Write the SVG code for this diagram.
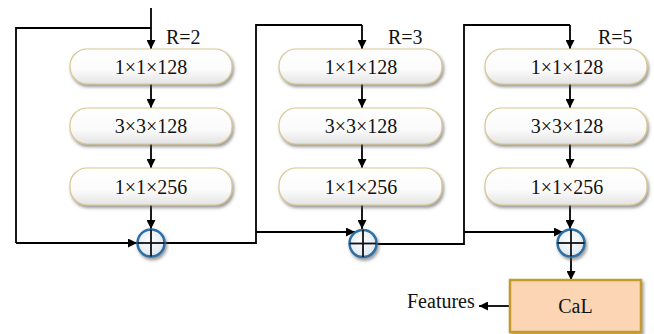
<svg xmlns="http://www.w3.org/2000/svg" width="654" height="334" viewBox="0 0 654 334">
<defs>
<linearGradient id="boxg" x1="0" y1="0" x2="0" y2="1">
<stop offset="0" stop-color="#ffffff"/>
<stop offset="0.6" stop-color="#fbfbfb"/>
<stop offset="1" stop-color="#e4e4e4"/>
</linearGradient>
<radialGradient id="circg" cx="0.45" cy="0.4" r="0.6">
<stop offset="0" stop-color="#ffffff"/>
<stop offset="1" stop-color="#dfe8f0"/>
</radialGradient>
<filter id="sh" x="-10%" y="-20%" width="125%" height="160%">
<feDropShadow dx="1.5" dy="2.5" stdDeviation="1.5" flood-color="#555" flood-opacity="0.6"/>
</filter>
<marker id="ah" viewBox="0 0 10 10" refX="10" refY="5" markerWidth="9" markerHeight="9" markerUnits="userSpaceOnUse" orient="auto">
<path d="M0,0 L10,5 L0,10 z" fill="#000"/>
</marker>
</defs>
<style>
.lbl{font-family:"Liberation Serif","Times New Roman",serif;font-size:20px;fill:#111;}
.box{fill:url(#boxg);stroke:#d8c690;stroke-width:1.2;filter:url(#sh);}
.ln{fill:none;stroke:#000;stroke-width:1.8;}
.arr{fill:none;stroke:#000;stroke-width:1.8;marker-end:url(#ah);}
.sum circle{fill:url(#circg);stroke:#2f6fa6;stroke-width:2.5;filter:url(#sh);}
.sum line{stroke:#111;stroke-width:1.8;}
</style>

<g id="connectors">
<path class="arr" d="M151,8 V49"/>
<path class="ln" d="M151,28 H16 V243"/>
<path class="arr" d="M16,243 H137"/>
<path class="arr" d="M151,84 V108"/>
<path class="arr" d="M151,144 V168"/>
<path class="arr" d="M151,205 V229"/>
<path class="ln" d="M165,243 H256 V25 H362"/>
<path class="arr" d="M362,25 V49"/>
<path class="arr" d="M256,232 H355"/>
<path class="arr" d="M362,84 V108"/>
<path class="arr" d="M362,144 V168"/>
<path class="arr" d="M362,205 V229"/>
<path class="ln" d="M377,244 H464 V25 H570"/>
<path class="arr" d="M570,25 V49"/>
<path class="arr" d="M464,232 H563"/>
<path class="arr" d="M570,84 V108"/>
<path class="arr" d="M570,144 V168"/>
<path class="arr" d="M570,205 V229"/>
<path class="arr" d="M571,257 V280"/>
<path class="arr" d="M510,306 H479"/>
</g>

<g id="b1">
<g id="b1c1"><rect class="box" x="70" y="49" width="162" height="35" rx="17"/><text class="lbl" x="151" y="73.5" text-anchor="middle">1×1×128</text></g>
<g id="b1c2"><rect class="box" x="70" y="108" width="162" height="36" rx="17"/><text class="lbl" x="151" y="133" text-anchor="middle">3×3×128</text></g>
<g id="b1c3"><rect class="box" x="70" y="168" width="162" height="37" rx="17"/><text class="lbl" x="151" y="193.5" text-anchor="middle">1×1×256</text></g>
<text id="r2" class="lbl" x="166" y="44">R=2</text>
<g id="sum1" class="sum"><circle cx="151" cy="243" r="13.5"/><line x1="137.5" y1="243" x2="164.5" y2="243"/><line x1="151" y1="229.5" x2="151" y2="256.5"/></g>
</g>

<g id="b2">
<g id="b2c1"><rect class="box" x="279" y="49" width="163" height="35" rx="17"/><text class="lbl" x="361" y="73.5" text-anchor="middle">1×1×128</text></g>
<g id="b2c2"><rect class="box" x="279" y="108" width="163" height="36" rx="17"/><text class="lbl" x="361" y="133" text-anchor="middle">3×3×128</text></g>
<g id="b2c3"><rect class="box" x="279" y="168" width="163" height="37" rx="17"/><text class="lbl" x="361" y="193.5" text-anchor="middle">1×1×256</text></g>
<text id="r3" class="lbl" x="388" y="44">R=3</text>
<g id="sum2" class="sum"><circle cx="363" cy="243.5" r="13.5"/><line x1="349.5" y1="243.5" x2="376.5" y2="243.5"/><line x1="363" y1="230" x2="363" y2="257"/></g>
</g>

<g id="b3">
<g id="b3c1"><rect class="box" x="485" y="49" width="162" height="35" rx="17"/><text class="lbl" x="567" y="73.5" text-anchor="middle">1×1×128</text></g>
<g id="b3c2"><rect class="box" x="485" y="108" width="162" height="36" rx="17"/><text class="lbl" x="567" y="133" text-anchor="middle">3×3×128</text></g>
<g id="b3c3"><rect class="box" x="485" y="168" width="162" height="37" rx="17"/><text class="lbl" x="567" y="193.5" text-anchor="middle">1×1×256</text></g>
<text id="r5" class="lbl" x="598" y="44">R=5</text>
<g id="sum3" class="sum"><circle cx="571" cy="243" r="13.5"/><line x1="557.5" y1="243" x2="584.5" y2="243"/><line x1="571" y1="229.5" x2="571" y2="256.5"/></g>
</g>

<g id="cal">
<rect x="510" y="280" width="131" height="52" fill="#fcd5b5" stroke="#c49a2c" stroke-width="2.5" filter="url(#sh)"/>
<text class="lbl" x="575.5" y="313" text-anchor="middle">CaL</text>
</g>
<text id="features" class="lbl" x="407" y="308">Features</text>
</svg>
